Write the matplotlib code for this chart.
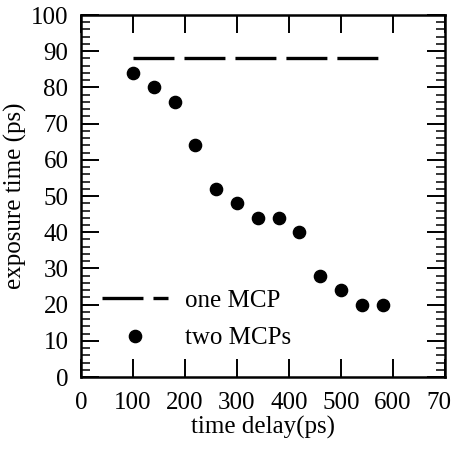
import matplotlib
matplotlib.use('Agg')
import matplotlib.pyplot as plt
from matplotlib.ticker import MultipleLocator

# data
delay_two = [100, 140, 180, 220, 260, 300, 340, 380, 420, 460, 500, 540, 580]
exposure_two = [84, 80, 76, 64, 52, 48, 44, 44, 40, 28, 24, 20, 20]
delay_one = [100, 580]
exposure_one = [88, 88]

plt.rcParams['font.family'] = ['Liberation Serif', 'DejaVu Serif']
plt.rcParams['lines.scale_dashes'] = False

fig = plt.figure(figsize=(4.51, 4.51), dpi=100)
ax = fig.add_axes([0.1796, 0.164, 0.807, 0.8027])

ax.plot(delay_one, exposure_one, color='black', lw=2.4,
        dashes=(29.5, 7.2), label='one MCP')
ax.plot(delay_two, exposure_two, 'o', color='black', ms=8.8, ls='none',
        label='two MCPs')

ax.set_xlim(0, 700)
ax.set_ylim(0, 100)
ax.xaxis.set_major_locator(MultipleLocator(100))
ax.yaxis.set_major_locator(MultipleLocator(10))
ax.yaxis.set_minor_locator(MultipleLocator(2))
ax.tick_params(axis='x', which='major', direction='in', top=True, length=13,
               width=1.4, labelsize=18, pad=11)
ax.tick_params(axis='y', which='major', direction='in', right=True, length=13,
               width=1.4, labelsize=18, pad=9)
ax.tick_params(axis='y', which='minor', direction='in', right=True, length=6.5,
               width=1.1)
for s in ax.spines.values():
    s.set_linewidth(1.8)

ax.set_xlabel('time delay(ps)', fontsize=18, labelpad=1)
ax.set_ylabel('exposure time (ps)', fontsize=18, labelpad=3)

ax.legend(loc='upper left', bbox_to_anchor=(0.03, 0.27), frameon=False,
          fontsize=18, handlelength=2.64, handletextpad=0.68, labelspacing=0.6,
          borderaxespad=0)

fig.savefig('out.png', dpi=100)
